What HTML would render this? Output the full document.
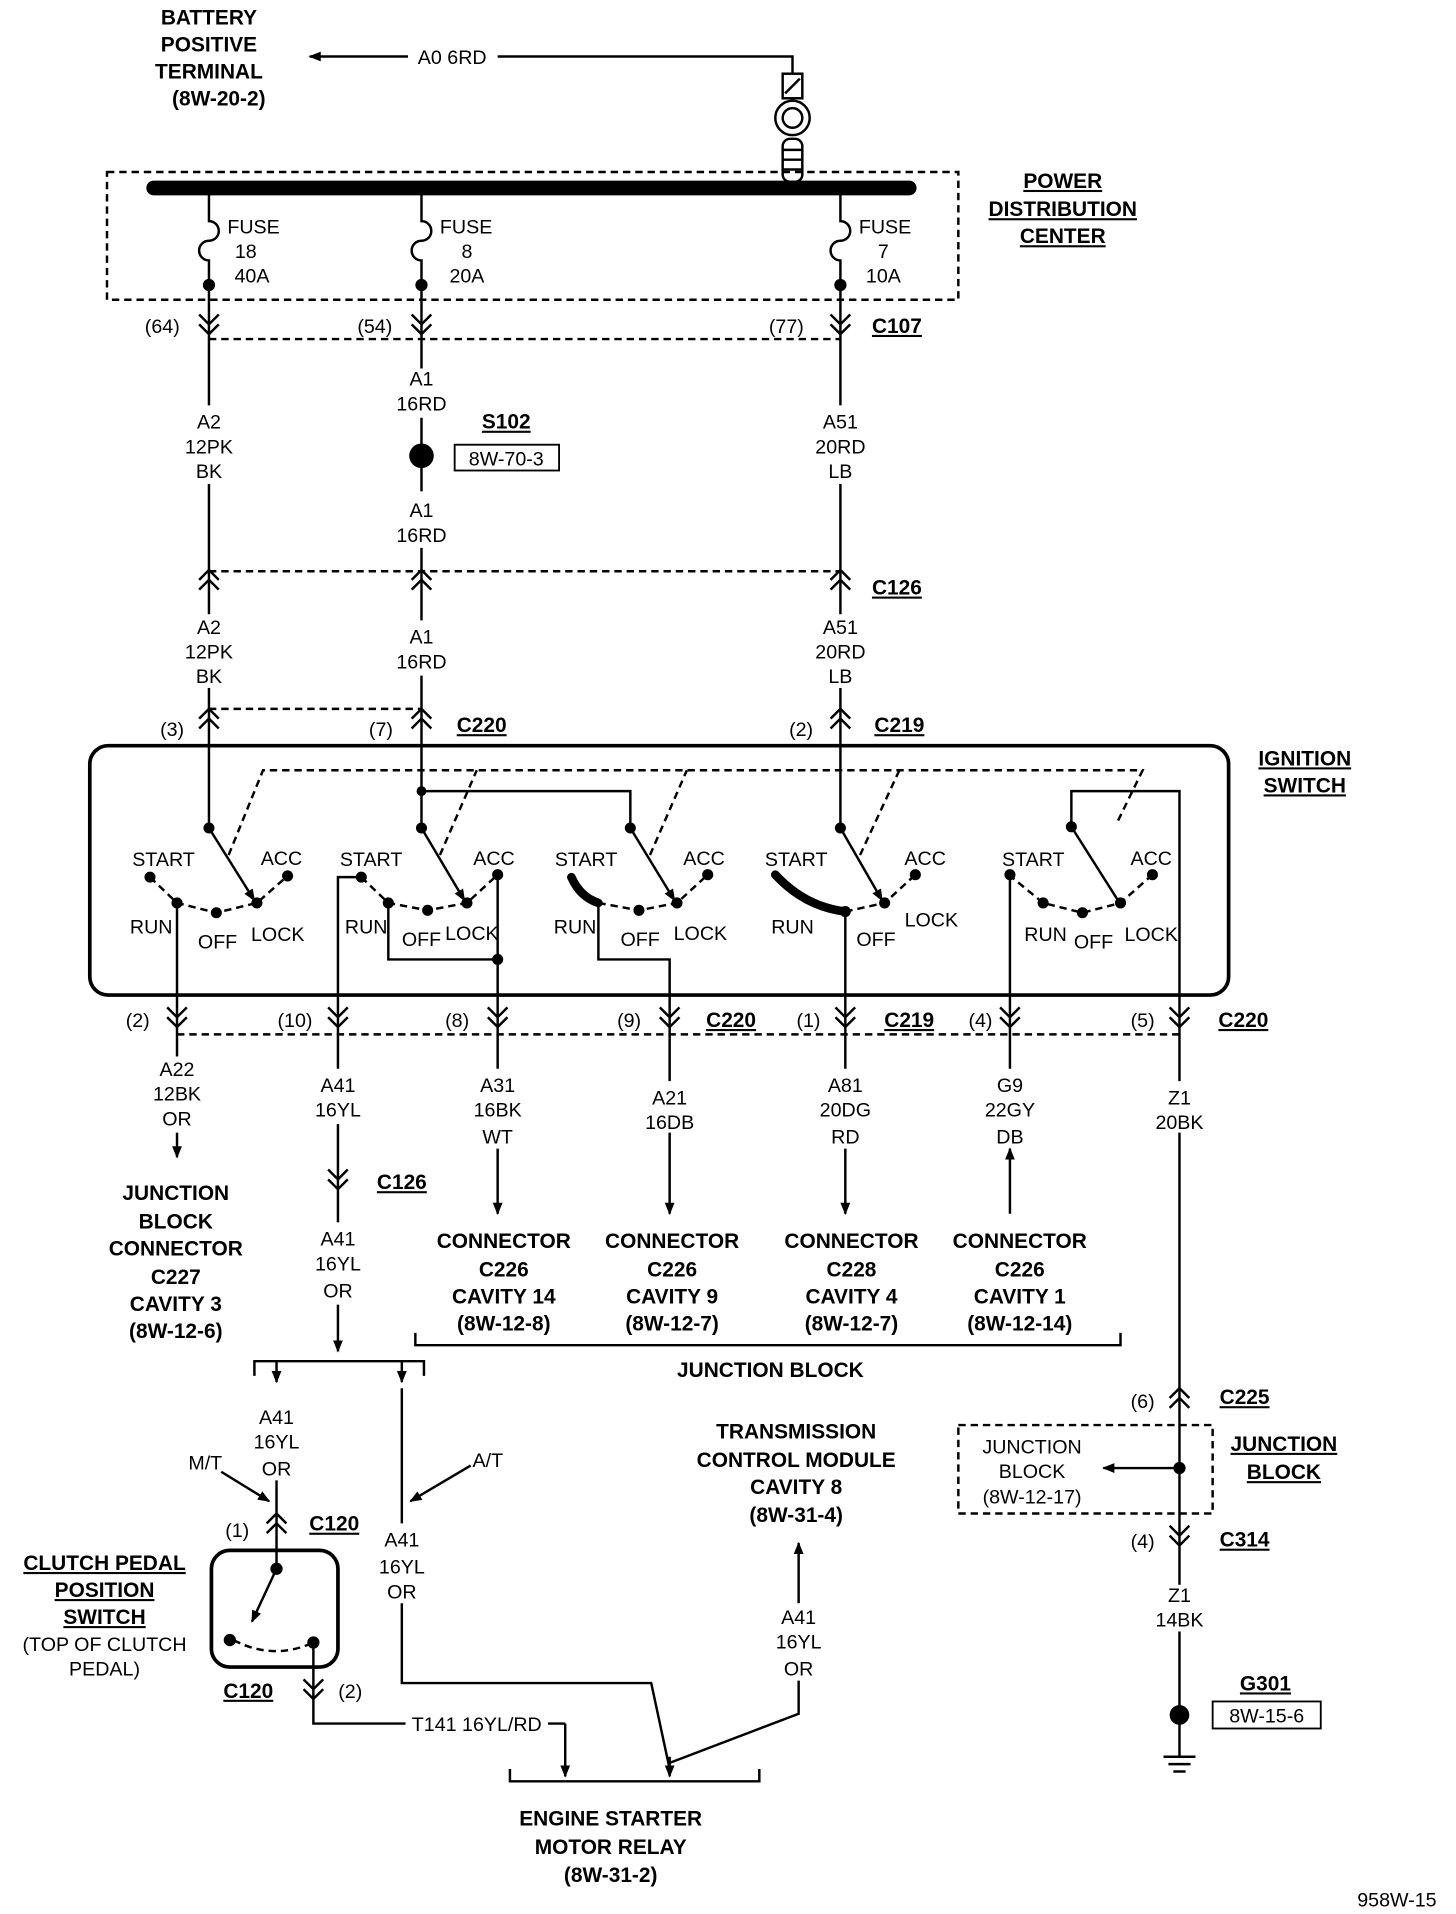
<!DOCTYPE html>
<html><head><meta charset="utf-8"><style>
html,body{margin:0;padding:0;background:#fff}
svg{display:block}
text{font-family:"Liberation Sans Narrow","Liberation Sans",sans-serif;font-size:16px;fill:#000;text-anchor:middle}
.b{font-weight:bold;font-size:17px}
.l{text-anchor:start}
</style></head><body>
<svg width="1456" height="1914" viewBox="0 0 1185 1558" xmlns="http://www.w3.org/2000/svg">
<defs>
<g id="cd" fill="none" stroke="#000" stroke-width="2"><polyline points="-8,-8 0,0 8,-8"/><polyline points="-8,0 0,8 8,0"/></g>
<g id="cu" fill="none" stroke="#000" stroke-width="2"><polyline points="-8,8 0,0 8,8"/><polyline points="-8,0 0,-8 8,0"/></g>
<marker id="ah" markerWidth="10" markerHeight="10" refX="9" refY="5" orient="auto" markerUnits="userSpaceOnUse"><path d="M0,1 L10,5 L0,9 z"/></marker>
</defs>
<g stroke="#000" stroke-width="2" fill="none">
<line x1="332" y1="46" x2="252" y2="46" marker-end="url(#ah)"/>
<polyline points="405,46 645,46 645,60"/>
<rect x="637" y="60" width="16" height="20"/>
<line x1="639" y1="76" x2="651" y2="64"/>
<circle cx="645" cy="96" r="14"/><circle cx="645" cy="96" r="8"/>
<rect x="637" y="113" width="16" height="35" rx="6"/>
<line x1="637" y1="122" x2="653" y2="122"/><line x1="637" y1="130" x2="653" y2="130"/><line x1="637" y1="138" x2="653" y2="138"/>
<rect x="87" y="140" width="693" height="104" stroke-dasharray="6,4"/>
<line x1="125" y1="153" x2="740" y2="153" stroke-width="12" stroke-linecap="round"/>
<path d="M170,153 V180 a8,8 0 0 1 0,16 a8,8 0 0 0 0,16 V330"/>
<path d="M343,153 V180 a8,8 0 0 1 0,16 a8,8 0 0 0 0,16 V300"/>
<path d="M684,153 V180 a8,8 0 0 1 0,16 a8,8 0 0 0 0,16 V330"/>
<line x1="170" y1="276" x2="684" y2="276" stroke-dasharray="6,4"/>
<line x1="170" y1="394" x2="170" y2="500"/>
<line x1="343" y1="340" x2="343" y2="400"/>
<line x1="343" y1="446" x2="343" y2="505"/>
<line x1="684" y1="394" x2="684" y2="500"/>
<rect x="370" y="362" width="85" height="21" stroke-width="1.5"/>
<line x1="170" y1="465" x2="684" y2="465" stroke-dasharray="6,4"/>
<line x1="170" y1="560" x2="170" y2="674"/>
<line x1="343" y1="550" x2="343" y2="674"/>
<line x1="684" y1="560" x2="684" y2="674"/>
<line x1="170" y1="577" x2="343" y2="577" stroke-dasharray="6,4"/>
<rect x="73" y="607" width="927" height="203" rx="15" stroke-width="3"/>
<g stroke-dasharray="6,4">
<polyline points="186,696 214,627 930,627 910,668"/>
<line x1="358" y1="696" x2="388" y2="627"/>
<line x1="529" y1="696" x2="559" y2="627"/>
<line x1="700" y1="696" x2="732" y2="627"/>
<polyline points="122,714 144,735 176,743 209,735 234,713"/>
<polyline points="294,714 316,735 348,741 380,735 405,712"/>
<polyline points="487,735 520,741 551,735 576,712"/>
<polyline points="688,742 720,735 745,712"/>
<polyline points="821,712 849,735 881,743 912,735 938,712"/>
</g>
<line x1="170" y1="674" x2="207" y2="733" marker-end="url(#ah)"/>
<line x1="343" y1="674" x2="378" y2="733" marker-end="url(#ah)"/>
<polyline points="343,644 513,644 513,674"/>
<line x1="513" y1="674" x2="549" y2="733" marker-end="url(#ah)"/>
<line x1="684" y1="674" x2="718" y2="733" marker-end="url(#ah)"/>
<polyline points="910,733 872,673 872,644 960,644 960,880"/>
<path d="M465,714 Q472,730 487,735" stroke-width="7" stroke-linecap="round"/>
<path d="M631,712 Q655,738 688,742" stroke-width="7" stroke-linecap="round"/>
<line x1="144" y1="735" x2="144" y2="860"/>
<polyline points="294,714 275,714 275,870"/>
<polyline points="316,735 316,781 405,781"/>
<polyline points="405,712 405,870"/>
<polyline points="487,735 487,781 545,781 545,880"/>
<line x1="688" y1="742" x2="688" y2="870"/>
<line x1="822" y1="712" x2="822" y2="870"/>
<line x1="144" y1="842" x2="960" y2="842" stroke-dasharray="6,4"/>
<line x1="144" y1="922" x2="144" y2="942" marker-end="url(#ah)"/>
<line x1="275" y1="915" x2="275" y2="995"/>
<line x1="275" y1="1062" x2="275" y2="1100" marker-end="url(#ah)"/>
<line x1="405" y1="935" x2="405" y2="988" marker-end="url(#ah)"/>
<line x1="545" y1="922" x2="545" y2="988" marker-end="url(#ah)"/>
<line x1="688" y1="935" x2="688" y2="988" marker-end="url(#ah)"/>
<line x1="822" y1="988" x2="822" y2="935" marker-end="url(#ah)"/>
<polyline points="338,1085 338,1095 912,1095 912,1085"/>
<line x1="960" y1="922" x2="960" y2="1290"/>
<rect x="780" y="1160" width="207" height="72" stroke-dasharray="6,4"/>
<line x1="960" y1="1195" x2="898" y2="1195" marker-end="url(#ah)"/>
<line x1="960" y1="1328" x2="960" y2="1430"/>
<rect x="987" y="1385" width="88" height="22" stroke-width="1.5"/>
<line x1="947" y1="1430" x2="973" y2="1430"/><line x1="951" y1="1436" x2="969" y2="1436"/><line x1="955" y1="1442" x2="965" y2="1442"/>
<polyline points="207,1120 207,1108 345,1108 345,1120"/>
<line x1="225" y1="1108" x2="225" y2="1125" marker-end="url(#ah)"/>
<line x1="327" y1="1108" x2="327" y2="1125" marker-end="url(#ah)"/>
<line x1="225" y1="1205" x2="225" y2="1277"/>
<line x1="180" y1="1198" x2="219" y2="1222" marker-end="url(#ah)"/>
<line x1="383" y1="1193" x2="334" y2="1222" marker-end="url(#ah)"/>
<line x1="327" y1="1130" x2="327" y2="1240"/>
<polyline points="327,1305 327,1370 530,1370 545,1440"/>
<line x1="545" y1="1430" x2="545" y2="1446" marker-end="url(#ah)"/>
<polyline points="650,1368 650,1395 545,1435"/>
<line x1="650" y1="1305" x2="650" y2="1256" marker-end="url(#ah)"/>
<rect x="172" y="1262" width="103" height="95" rx="15" stroke-width="3"/>
<line x1="225" y1="1277" x2="205" y2="1320" marker-end="url(#ah)"/>
<path d="M190,1335 Q222,1352 255,1337" stroke-dasharray="6,4"/>
<polyline points="255,1337 255,1403 330,1403"/>
<line x1="446" y1="1403" x2="460" y2="1403"/>
<line x1="460" y1="1403" x2="460" y2="1446" marker-end="url(#ah)"/>
<polyline points="415,1440 415,1450 618,1450 618,1440"/>
</g>
<use href="#cd" x="170" y="264"/><use href="#cd" x="343" y="264"/><use href="#cd" x="684" y="264"/>
<use href="#cu" x="170" y="472"/><use href="#cu" x="343" y="472"/><use href="#cu" x="684" y="472"/>
<use href="#cu" x="170" y="585"/><use href="#cu" x="343" y="585"/><use href="#cu" x="684" y="585"/>
<use href="#cd" x="144" y="828"/><use href="#cd" x="275" y="828"/><use href="#cd" x="405" y="828"/><use href="#cd" x="545" y="828"/><use href="#cd" x="688" y="828"/><use href="#cd" x="822" y="828"/><use href="#cd" x="960" y="828"/>
<use href="#cd" x="275" y="960"/>
<use href="#cu" x="960" y="1138"/><use href="#cd" x="960" y="1250"/>
<use href="#cu" x="225" y="1240"/><use href="#cd" x="255" y="1375"/>
<g fill="#000">
<circle cx="170" cy="232" r="5"/><circle cx="343" cy="232" r="5"/><circle cx="684" cy="232" r="5"/>
<circle cx="343" cy="371" r="10"/><circle cx="343" cy="644" r="4"/>
<circle cx="170" cy="674" r="4.5"/><circle cx="343" cy="674" r="4.5"/><circle cx="513" cy="674" r="4.5"/><circle cx="684" cy="674" r="4.5"/><circle cx="872" cy="673" r="4.5"/>
<circle cx="122" cy="714" r="4.5"/><circle cx="144" cy="735" r="4.5"/><circle cx="176" cy="743" r="4.5"/><circle cx="209" cy="735" r="4.5"/><circle cx="234" cy="713" r="4.5"/>
<circle cx="294" cy="714" r="4.5"/><circle cx="316" cy="735" r="4.5"/><circle cx="348" cy="741" r="4.5"/><circle cx="380" cy="735" r="4.5"/><circle cx="405" cy="712" r="4.5"/><circle cx="405" cy="781" r="4.5"/>
<circle cx="520" cy="741" r="4.5"/><circle cx="551" cy="735" r="4.5"/><circle cx="576" cy="712" r="4.5"/>
<circle cx="720" cy="735" r="4.5"/><circle cx="745" cy="712" r="4.5"/><circle cx="688" cy="742" r="4.5"/>
<circle cx="822" cy="712" r="4.5"/><circle cx="849" cy="735" r="4.5"/><circle cx="881" cy="743" r="4.5"/><circle cx="912" cy="735" r="4.5"/><circle cx="938" cy="712" r="4.5"/>
<circle cx="960" cy="1195" r="5"/><circle cx="960" cy="1396" r="8"/>
<circle cx="225" cy="1277" r="5"/><circle cx="187" cy="1335" r="5"/><circle cx="255" cy="1337" r="5"/>
</g>
<g>
<text x="170" y="20" class="b">BATTERY</text><text x="170" y="42" class="b">POSITIVE</text><text x="170" y="64" class="b">TERMINAL</text><text x="178" y="86" class="b">(8W-20-2)</text>
<text x="865" y="153" class="b" text-decoration="underline">POWER</text><text x="865" y="176" class="b" text-decoration="underline">DISTRIBUTION</text><text x="865" y="198" class="b" text-decoration="underline">CENTER</text>
<text x="730" y="271" class="b" text-decoration="underline">C107</text>
<text x="412" y="349" class="b" text-decoration="underline">S102</text>
<text x="730" y="484" class="b" text-decoration="underline">C126</text>
<text x="392" y="596" class="b" text-decoration="underline">C220</text>
<text x="732" y="596" class="b" text-decoration="underline">C219</text>
<text x="1062" y="623" class="b" text-decoration="underline">IGNITION</text><text x="1062" y="645" class="b" text-decoration="underline">SWITCH</text>
<text x="595" y="836" class="b" text-decoration="underline">C220</text>
<text x="740" y="836" class="b" text-decoration="underline">C219</text>
<text x="1012" y="836" class="b" text-decoration="underline">C220</text>
<text x="327" y="968" class="b" text-decoration="underline">C126</text>
<text x="143" y="977" class="b">JUNCTION</text><text x="143" y="1000" class="b">BLOCK</text><text x="143" y="1022" class="b">CONNECTOR</text><text x="143" y="1045" class="b">C227</text><text x="143" y="1067" class="b">CAVITY 3</text><text x="143" y="1089" class="b">(8W-12-6)</text>
<text x="410" y="1016" class="b">CONNECTOR</text><text x="410" y="1039" class="b">C226</text><text x="410" y="1061" class="b">CAVITY 14</text><text x="410" y="1083" class="b">(8W-12-8)</text>
<text x="547" y="1016" class="b">CONNECTOR</text><text x="547" y="1039" class="b">C226</text><text x="547" y="1061" class="b">CAVITY 9</text><text x="547" y="1083" class="b">(8W-12-7)</text>
<text x="693" y="1016" class="b">CONNECTOR</text><text x="693" y="1039" class="b">C228</text><text x="693" y="1061" class="b">CAVITY 4</text><text x="693" y="1083" class="b">(8W-12-7)</text>
<text x="830" y="1016" class="b">CONNECTOR</text><text x="830" y="1039" class="b">C226</text><text x="830" y="1061" class="b">CAVITY 1</text><text x="830" y="1083" class="b">(8W-12-14)</text>
<text x="627" y="1121" class="b">JUNCTION BLOCK</text>
<text x="1013" y="1143" class="b" text-decoration="underline">C225</text>
<text x="1045" y="1181" class="b" text-decoration="underline">JUNCTION</text><text x="1045" y="1204" class="b" text-decoration="underline">BLOCK</text>
<text x="1013" y="1259" class="b" text-decoration="underline">C314</text>
<text x="1030" y="1376" class="b" text-decoration="underline">G301</text>
<text x="648" y="1171" class="b">TRANSMISSION</text><text x="648" y="1194" class="b">CONTROL MODULE</text><text x="648" y="1216" class="b">CAVITY 8</text><text x="648" y="1239" class="b">(8W-31-4)</text>
<text x="272" y="1246" class="b" text-decoration="underline">C120</text>
<text x="85" y="1278" class="b" text-decoration="underline">CLUTCH PEDAL</text><text x="85" y="1300" class="b" text-decoration="underline">POSITION</text><text x="85" y="1322" class="b" text-decoration="underline">SWITCH</text>
<text x="202" y="1382" class="b" text-decoration="underline">C120</text>
<text x="497" y="1486" class="b">ENGINE STARTER</text><text x="497" y="1509" class="b">MOTOR RELAY</text><text x="497" y="1532" class="b">(8W-31-2)</text>
</g>
<text x="368" y="52">A0 6RD</text>
<text x="185" y="190" class="l">FUSE</text><text x="200" y="210">18</text><text x="205" y="230">40A</text>
<text x="358" y="190" class="l">FUSE</text><text x="380" y="210">8</text><text x="380" y="230">20A</text>
<text x="699" y="190" class="l">FUSE</text><text x="719" y="210">7</text><text x="719" y="230">10A</text>
<text x="132" y="271">(64)</text><text x="305" y="271">(54)</text><text x="640" y="271">(77)</text>
<text x="343" y="314">A1</text><text x="343" y="334">16RD</text>
<text x="170" y="349">A2</text><text x="170" y="369">12PK</text><text x="170" y="389">BK</text>
<text x="684" y="349">A51</text><text x="684" y="369">20RD</text><text x="684" y="389">LB</text>
<text x="412" y="379">8W-70-3</text>
<text x="343" y="421">A1</text><text x="343" y="441">16RD</text>
<text x="170" y="516">A2</text><text x="170" y="536">12PK</text><text x="170" y="556">BK</text>
<text x="343" y="524">A1</text><text x="343" y="544">16RD</text>
<text x="684" y="516">A51</text><text x="684" y="536">20RD</text><text x="684" y="556">LB</text>
<text x="140" y="599">(3)</text><text x="310" y="599">(7)</text><text x="652" y="599">(2)</text>
<text x="133" y="705">START</text><text x="229" y="704">ACC</text><text x="123" y="760">RUN</text><text x="177" y="772">OFF</text><text x="226" y="766">LOCK</text>
<text x="302" y="705">START</text><text x="402" y="704">ACC</text><text x="298" y="760">RUN</text><text x="343" y="770">OFF</text><text x="384" y="765">LOCK</text>
<text x="477" y="705">START</text><text x="573" y="704">ACC</text><text x="468" y="760">RUN</text><text x="521" y="770">OFF</text><text x="570" y="765">LOCK</text>
<text x="648" y="705">START</text><text x="753" y="704">ACC</text><text x="645" y="760">RUN</text><text x="713" y="770">OFF</text><text x="758" y="754">LOCK</text>
<text x="841" y="705">START</text><text x="937" y="704">ACC</text><text x="851" y="766">RUN</text><text x="890" y="772">OFF</text><text x="937" y="766">LOCK</text>
<text x="112" y="836">(2)</text><text x="240" y="836">(10)</text><text x="372" y="836">(8)</text><text x="512" y="836">(9)</text><text x="658" y="836">(1)</text><text x="798" y="836">(4)</text><text x="930" y="836">(5)</text>
<text x="144" y="876">A22</text><text x="144" y="896">12BK</text><text x="144" y="916">OR</text>
<text x="275" y="889">A41</text><text x="275" y="909">16YL</text>
<text x="405" y="889">A31</text><text x="405" y="909">16BK</text><text x="405" y="931">WT</text>
<text x="545" y="899">A21</text><text x="545" y="919">16DB</text>
<text x="688" y="889">A81</text><text x="688" y="909">20DG</text><text x="688" y="931">RD</text>
<text x="822" y="889">G9</text><text x="822" y="909">22GY</text><text x="822" y="931">DB</text>
<text x="960" y="899">Z1</text><text x="960" y="919">20BK</text>
<text x="275" y="1014">A41</text><text x="275" y="1034">16YL</text><text x="275" y="1056">OR</text>
<text x="930" y="1146">(6)</text>
<text x="840" y="1183">JUNCTION</text><text x="840" y="1203">BLOCK</text><text x="840" y="1224">(8W-12-17)</text>
<text x="930" y="1260">(4)</text>
<text x="960" y="1304">Z1</text><text x="960" y="1324">14BK</text>
<text x="1031" y="1402">8W-15-6</text>
<text x="225" y="1159">A41</text><text x="225" y="1179">16YL</text><text x="225" y="1201">OR</text>
<text x="167" y="1196">M/T</text><text x="397" y="1194">A/T</text>
<text x="193" y="1251">(1)</text>
<text x="327" y="1259">A41</text><text x="327" y="1281">16YL</text><text x="327" y="1301">OR</text>
<text x="85" y="1344">(TOP OF CLUTCH</text><text x="85" y="1364">PEDAL)</text>
<text x="285" y="1382">(2)</text>
<text x="388" y="1409">T141 16YL/RD</text>
<text x="650" y="1322">A41</text><text x="650" y="1342">16YL</text><text x="650" y="1364">OR</text>
<text x="1137" y="1552">958W-15</text>
</svg>
</body></html>
